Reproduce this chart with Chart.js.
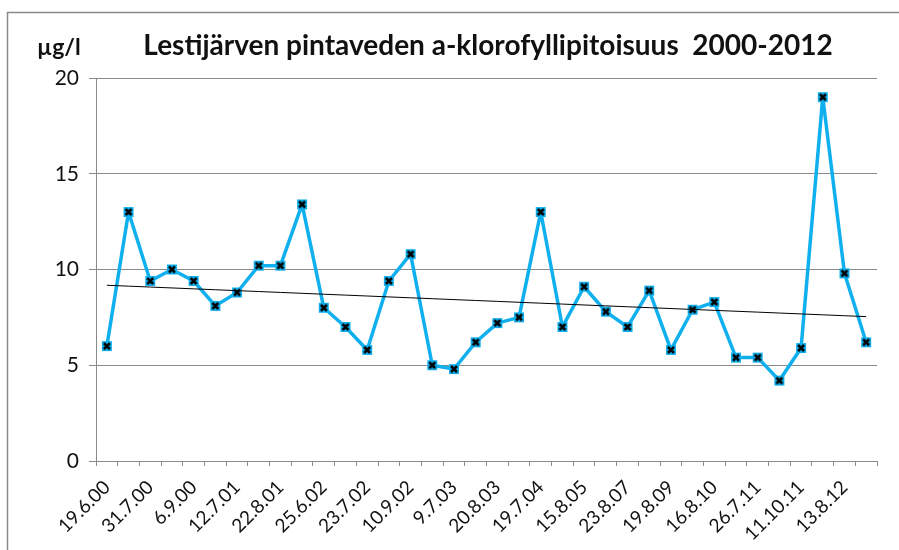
<!DOCTYPE html>
<html>
<head>
<meta charset="utf-8">
<script src="https://cdn.jsdelivr.net/npm/chart.js@4"></script>
<style>
  html, body { margin: 0; padding: 0; background: #fff; }
  #wrap { width: 899px; height: 550px; }
</style>
</head>
<body>
<div id="wrap"><canvas id="myChart" width="899" height="550"></canvas></div>
<script>
// Labels shown on the x axis (every second sample date)
const tickLabels = ['19.6.00', '31.7.00', '6.9.00', '12.7.01', '22.8.01', '25.6.02',
    '23.7.02', '10.9.02', '9.7.03', '20.8.03', '19.7.04', '15.8.05',
    '23.8.07', '19.8.09', '16.8.10', '26.7.11', '11.10.11', '13.8.12'];

// a-klorofylli, µg/l
const chlorophyll = [6.0, 13.0, 9.4, 10.0, 9.4, 8.1, 8.8, 10.2, 10.2, 13.4,
    8.0, 7.0, 5.8, 9.4, 10.8, 5.0, 4.8, 6.2, 7.2, 7.5,
    13.0, 7.0, 9.1, 7.8, 7.0, 8.9, 5.8, 7.9, 8.3, 5.4,
    5.4, 4.2, 5.9, 19.0, 9.8, 6.2];

const yTicks = [0, 5, 10, 15, 20];

// every sample gets a category, only every other one is labelled
const categories = [];
chlorophyll.forEach((v, i) => {
    categories.push(i % 2 === 0 ? tickLabels[i / 2] : '');
});

// linear trendline (least squares), like the spreadsheet one
function trendLine(values) {
    const n = values.length;
    let sx = 0, sy = 0, sxy = 0, sxx = 0;
    values.forEach((v, i) => {
        sx += i; sy += v; sxy += i * v; sxx += i * i;
    });
    const b = (n * sxy - sx * sy) / (n * sxx - sx * sx);
    const a = (sy - b * sx) / n;
    return values.map((v, i) => a + b * i);
}

// marker: light blue square with a black cross
const marker = document.createElement('canvas');
marker.width = 12;
marker.height = 12;
const m = marker.getContext('2d');
m.fillStyle = '#10B0EE';
m.fillRect(1, 1, 10, 10);
m.strokeStyle = '#000';
m.lineWidth = 2.6;
m.beginPath();
m.moveTo(3, 3); m.lineTo(9, 9);
m.moveTo(9, 3); m.lineTo(3, 9);
m.stroke();

// frame, title and unit text
const decorations = {
    id: 'decorations',
    beforeDraw(chart) {
        const c = chart.ctx;
        c.save();
        c.fillStyle = '#fff';
        c.fillRect(0, 0, chart.width, chart.height);
        c.strokeStyle = '#8a8a8a';
        c.lineWidth = 1.5;
        c.strokeRect(7.5, 12.5, 1000, 1000);
        c.restore();
    },
    afterDraw(chart) {
        const c = chart.ctx;
        c.save();
        c.fillStyle = '#111';
        c.textBaseline = 'alphabetic';
        c.font = 'bold 28px Lato';
        c.textAlign = 'center';
        c.fillText('Lestijärven pintaveden a-klorofyllipitoisuus  2000-2012', 488, 55);
        c.font = 'bold 23px Lato';
        c.textAlign = 'left';
        c.fillText('µg/l', 37, 55);
        c.restore();
    }
};

const ctx = document.getElementById('myChart').getContext('2d');

new Chart(ctx, {
    type: 'line',
    data: {
        labels: categories,
        datasets: [{
            label: 'trend',
            data: trendLine(chlorophyll),
            borderColor: '#000',
            borderWidth: 1,
            pointRadius: 0,
            fill: false,
            order: 0
        }, {
            label: 'a-klorofylli',
            data: chlorophyll,
            borderColor: '#10B0EE',
            borderWidth: 3.5,
            borderJoinStyle: 'bevel',
            pointStyle: marker,
            pointRadius: 6,
            tension: 0,
            fill: false,
            order: 1
        }]
    },
    options: {
        responsive: false,
        animation: false,
        events: [],
        layout: {
            padding: { left: 8, right: 22, top: 78, bottom: 0 }
        },
        plugins: {
            legend: { display: false },
            title: { display: false },
            tooltip: { enabled: false }
        },
        scales: {
            x: {
                offset: true,
                grid: {
                    offset: true,
                    drawOnChartArea: false,
                    drawTicks: true,
                    tickLength: 5,
                    color: '#8a8a8a'
                },
                border: { color: '#8a8a8a' },
                ticks: {
                    autoSkip: false,
                    maxRotation: 45,
                    minRotation: 45,
                    padding: 10,
                    color: '#111',
                    font: { family: 'Lato', size: 19 }
                },
                afterFit(scale) { scale.height = 89; }
            },
            y: {
                min: 0,
                max: 20,
                afterBuildTicks(scale) {
                    scale.ticks = yTicks.map(v => ({ value: v }));
                },
                grid: {
                    color: '#8a8a8a',
                    tickLength: 7
                },
                border: { color: '#8a8a8a' },
                ticks: {
                    padding: 10,
                    color: '#111',
                    font: { family: 'Lato', size: 21 }
                },
                afterFit(scale) { scale.width = 88; }
            }
        }
    },
    plugins: [decorations]
});
</script>
</body>
</html>
